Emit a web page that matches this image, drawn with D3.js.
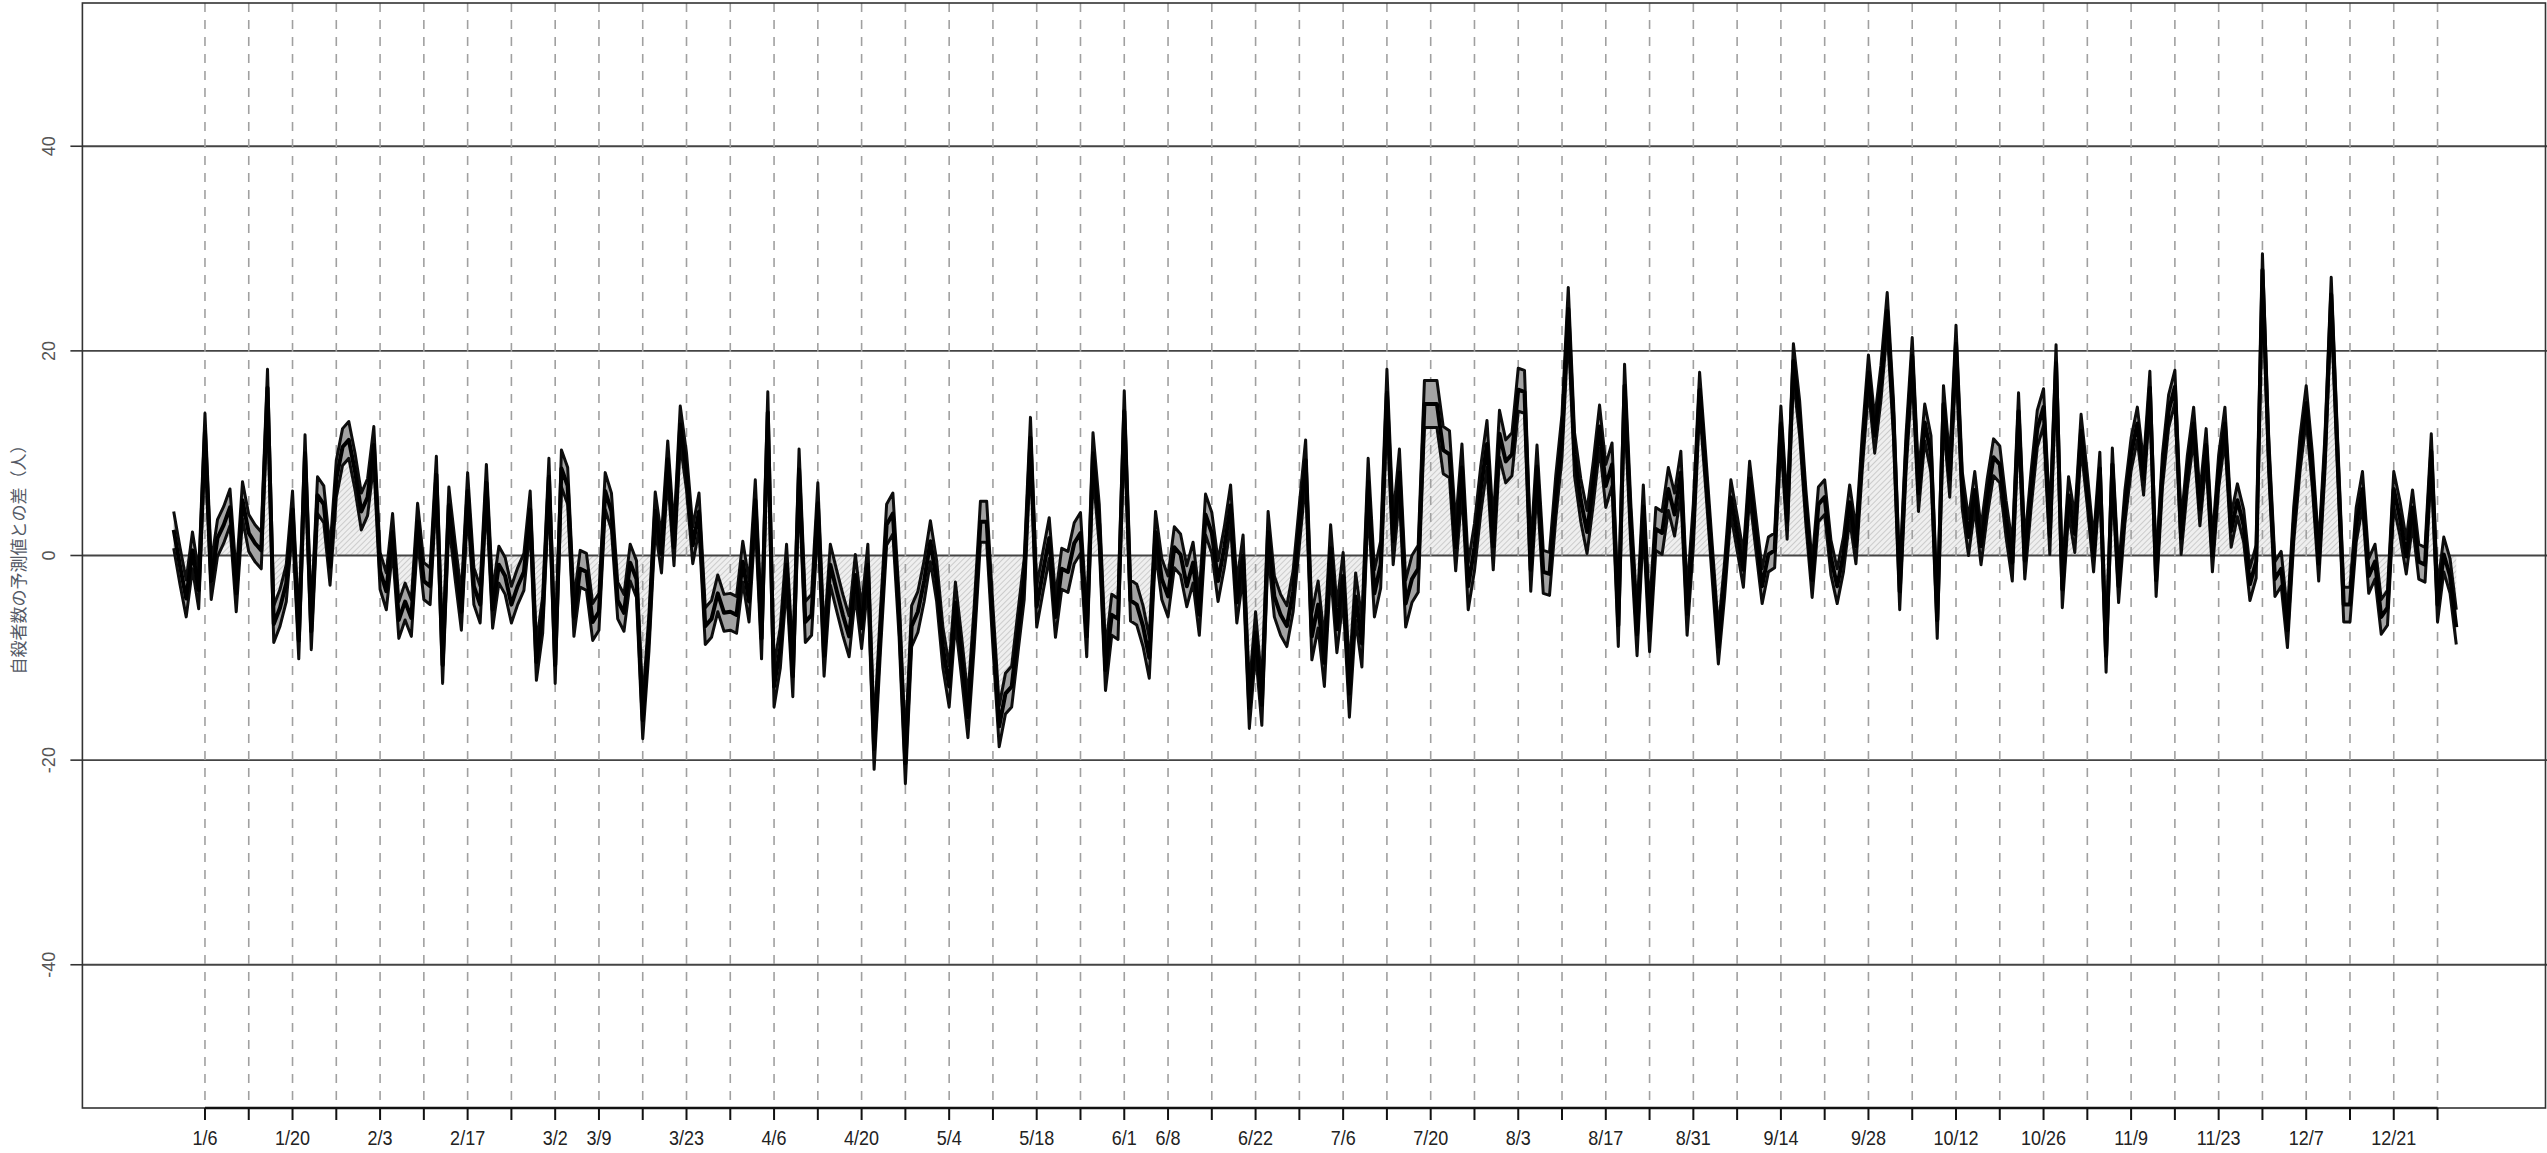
<!DOCTYPE html>
<html>
<head>
<meta charset="utf-8">
<script src="https://cdn.jsdelivr.net/npm/d3@7"></script>
<style>
  body { margin: 0; background: #fff; }
  svg { display: block; }
</style>
</head>
<body>
<svg id="vis"></svg>
<script>
// daily difference between observed and predicted count, 2020 (one value per day)
const year = 2020;
const diffValues = [
  2.5, -1, -4.2, 0.5, -3.4, 12.1, -2.5, 1.7, 3, 4.7,
  -3.7, 5.4, 2.2, 1.2, 0.5, 16.4, -6.7, -5.1, -2.7, 4.5,
  -8.3, 10, -7.4, 5.9, 5, -1.1, 7.5, 10.6, 11.3, 8.2,
  4.3, 5.7, 10.8, -1.5, -3.5, 2.3, -6.3, -4.5, -6.1, 3.3,
  -2.5, -3, 7.9, -10.7, 4.9, -0.5, -5.5, 6.3, -3, -4.8,
  7.1, -5.3, -0.9, -2, -4.8, -3, -1.6, 4.5, -10.4, -5.8,
  7.7, -10.7, 8.5, 6.8, -6.1, -1.3, -1.6, -6.5, -5.5, 6.3,
  4.3, -4.4, -5.6, -0.7, -2.3, -16.1, -7.5, 4.4, 0.1, 9.4,
  0.8, 12.8, 8.2, 1.0, 4.3, -6.9, -6.2, -3.7, -5.6, -5.5,
  -5.8, -0.6, -4.5, 5.4, -8.1, 14, -12.8, -9, -0.9, -11.8,
  8.4, -6.5, -5.8, 5.1, -9.8, -0.9, -3.4, -5.8, -7.9, -1.9,
  -7.1, -0.9, -18.9, -7.5, 3, 4.1, -6, -20.3, -6.9, -5.5,
  -2.5, 1.4, -2.5, -9, -12.8, -4.6, -10, -15.8, -7, 3.3,
  3.3, -7, -16.7, -13.5, -12.8, -7.5, -2.3, 11.5, -5, -1.6,
  1.7, -6, -1.3, -1.6, 1.2, 2.2, -7.9, 10, 3, -11.2,
  -5.8, -6.2, 14.1, -4.4, -4.8, -6.9, -10, 2.3, -2.3, -4,
  0.8, 0.1, -3, -0.7, -5.8, 4, 2.2, -2.5, 0.8, 4.9,
  -4.6, 0, -14.9, -7.5, -14.6, 2.3, -4, -5.8, -6.9, -3.5,
  3, 9.3, -7.9, -4.8, -10.5, 0.7, -7.2, -2, -13.5, -4,
  -8.6, 7.2, -3.7, -0.9, 15.9, 1.4, 8.1, -4.7, -2.3, -1.3,
  14.8, 14.8, 14.8, 10.3, 9.9, 0.8, 8.6, -3, 0.8, 6.4,
  10.9, 0.9, 11.9, 9.2, 9.9, 16.2, 16, -1.4, 8.7, -1.6,
  -1.8, 5.7, 11.7, 24.1, 9.9, 5.4, 2.3, 7.1, 12.6, 6.8,
  8.9, -6.8, 16.6, 3, -7.7, 4.8, -7.3, 2.6, 2.2, 6.5,
  4, 8.1, -5.7, 3, 16.2, 8, -0.5, -8.9, -2.3, 5.7,
  2.2, -1.4, 7.5, 2.2, -3, 0.1, 0.5, 12.9, 3.3, 19,
  13.4, 4.7, -2.4, 5, 5.7, -0.2, -3, 0.1, 5.2, 0.9,
  10, 17.9, 11.7, 16.9, 23.9, 13.4, -3.5, 9.9, 19.5, 6.1,
  13, 9.9, -6.3, 14.8, 7.5, 20.7, 6.4, 1.8, 6.4, 0.9,
  5.7, 9.6, 8.9, 3.6, -0.7, 14.1, -0.5, 6.4, 12.4, 14.5,
  1.9, 18.8, -3.3, 5.9, 2.1, 12.2, 6.4, 0, 8.5, -9.8,
  8.9, -3, 4.7, 9.9, 12.9, 7.5, 16.4, -2.4, 8.2, 14.1,
  16.5, 1.7, 8.2, 12.9, 4.5, 10.8, 0, 8.2, 12.9, 2.4,
  5.4, 2.9, -2.8, -0.6, 27.9, 9.9, -2.3, -1.3, -7.3, 3,
  9.9, 14.9, 8.2, -0.8, 10, 25.5, 10, -4.8, -4.8, 3,
  6.5, -2, -0.6, -6, -5.1, 6.5, 3.6, -0.1, 4.7, -0.6,
  -0.9, 10.2, -4.8, 0.1, -2, -7
];
// half width of the grey band, read per month (Jan..Dec)
const bandHalfWidth = [1.8, 1.8, 1.8, 2.0, 2.0, 2.0, 2.3, 2.1, 1.7, 1.8, 1.6, 1.7];
const weekTicks = ["1/6","1/13","1/20","1/27","2/3","2/10","2/17","2/24","3/2","3/9","3/16","3/23","3/30",
  "4/6","4/13","4/20","4/27","5/4","5/11","5/18","5/25","6/1","6/8","6/15","6/22","6/29",
  "7/6","7/13","7/20","7/27","8/3","8/10","8/17","8/24","8/31","9/7","9/14","9/21","9/28",
  "10/5","10/12","10/19","10/26","11/2","11/9","11/16","11/23","11/30","12/7","12/14","12/21","12/28"];
const shownLabels = ["1/6","1/20","2/3","2/17","3/2","3/9","3/23","4/6","4/20","5/4","5/18","6/1","6/8",
  "6/22","7/6","7/20","8/3","8/17","8/31","9/14","9/28","10/12","10/26","11/9","11/23","12/7","12/21"];
const yTicks = [-40, -20, 0, 20, 40];
const yTitle = "自殺者数の予測値との差（人）";

const W = 2547, H = 1153;
const plotTop = 3, plotBottom = 1108, plotLeft = 82.4, plotRight = 2547.6;

const jan1 = new Date(year, 0, 1);
const dayOf = s => {
    const [m, d] = s.split("/").map(Number);
    return d3.timeDay.count(jan1, new Date(year, m - 1, d));
};
const monthOf = i => new Date(year, 0, 1 + i).getMonth();

const n = diffValues.length;
const pad = (n - 1) * 0.04;
const x = d3.scaleLinear().domain([-pad, n - 1 + pad]).range([plotLeft, plotRight]);
const y = d3.scaleLinear().domain([-54, 54]).range([plotBottom, plotTop]);

const rows = diffValues.map((v, i) => {
    const w = bandHalfWidth[monthOf(i)];
    return {i: i, v: v, hi: v + w, lo: v - w};
});

const svg = d3.select("#vis").attr("width", W).attr("height", H);
svg.append("rect").attr("width", W).attr("height", H).attr("fill", "#fff");

const defs = svg.append("defs");
const pat = defs.append("pattern")
    .attr("id", "hatch")
    .attr("patternUnits", "userSpaceOnUse")
    .attr("width", 4).attr("height", 4)
    .attr("patternTransform", "rotate(45)");
pat.append("rect").attr("width", 4).attr("height", 4).attr("fill", "#efefef");
pat.append("line").attr("x1", 0).attr("y1", 0).attr("x2", 0).attr("y2", 4)
    .attr("stroke", "#b4b4b4").attr("stroke-width", 1.2);

defs.append("clipPath").attr("id", "plotclip")
    .append("rect").attr("x", plotLeft).attr("y", plotTop)
    .attr("width", plotRight - plotLeft).attr("height", plotBottom - plotTop);

const g = svg.append("g").attr("clip-path", "url(#plotclip)");

// hatched area between the line and zero
g.append("path").datum(rows)
    .attr("d", d3.area().x(d => x(d.i)).y0(y(0)).y1(d => y(d.v)))
    .attr("fill", "url(#hatch)");

// grid
g.selectAll("line.hgrid").data(yTicks).join("line")
    .attr("class", "hgrid")
    .attr("x1", plotLeft).attr("x2", plotRight)
    .attr("y1", d => y(d)).attr("y2", d => y(d))
    .attr("stroke", "#444").attr("stroke-width", 1.9);

g.selectAll("line.vgrid").data(weekTicks).join("line")
    .attr("class", "vgrid")
    .attr("x1", d => x(dayOf(d))).attr("x2", d => x(dayOf(d)))
    .attr("y1", plotTop).attr("y2", plotBottom)
    .attr("stroke", "#a0a0a0").attr("stroke-width", 1.6)
    .attr("stroke-dasharray", "9,8");

// grey band
g.append("path").datum(rows)
    .attr("d", d3.area().x(d => x(d.i)).y0(d => y(d.lo)).y1(d => y(d.hi)))
    .attr("fill", "#a3a3a3");

const lineOf = key => d3.line().x(d => x(d.i)).y(d => y(d[key]));
["hi", "lo"].forEach(k => {
    g.append("path").datum(rows)
        .attr("d", lineOf(k))
        .attr("fill", "none").attr("stroke", "#0d0d0d")
        .attr("stroke-width", 3).attr("stroke-linejoin", "round");
});
g.append("path").datum(rows)
    .attr("d", lineOf("v"))
    .attr("fill", "none").attr("stroke", "#000")
    .attr("stroke-width", 4).attr("stroke-linejoin", "round");

// frame
svg.append("rect")
    .attr("x", plotLeft).attr("y", plotTop)
    .attr("width", 2545.5 - plotLeft).attr("height", plotBottom - plotTop)
    .attr("fill", "none").attr("stroke", "#333").attr("stroke-width", 1.6);

// x axis
const tickDays = weekTicks.map(dayOf);
svg.append("line")
    .attr("x1", x(tickDays[0])).attr("x2", x(tickDays[tickDays.length - 1]))
    .attr("y1", plotBottom).attr("y2", plotBottom)
    .attr("stroke", "#111").attr("stroke-width", 2.6);
svg.selectAll("line.xtick").data(tickDays).join("line")
    .attr("class", "xtick")
    .attr("x1", d => x(d)).attr("x2", d => x(d))
    .attr("y1", plotBottom).attr("y2", plotBottom + 12)
    .attr("stroke", "#111").attr("stroke-width", 2);
svg.selectAll("text.xlab").data(shownLabels).join("text")
    .attr("class", "xlab")
    .attr("transform", d => `translate(${x(dayOf(d))},${plotBottom + 37}) scale(0.9,1)`)
    .attr("text-anchor", "middle")
    .attr("font-family", "Liberation Sans, Arial, sans-serif")
    .attr("font-size", 20)
    .attr("fill", "#222")
    .text(d => d);

// y axis
svg.selectAll("line.ytick").data(yTicks).join("line")
    .attr("class", "ytick")
    .attr("x1", plotLeft - 12).attr("x2", plotLeft)
    .attr("y1", d => y(d)).attr("y2", d => y(d))
    .attr("stroke", "#333").attr("stroke-width", 1.6);
svg.selectAll("text.ylab").data(yTicks).join("text")
    .attr("class", "ylab")
    .attr("transform", d => `translate(55,${y(d)}) rotate(-90)`)
    .attr("text-anchor", "middle")
    .attr("font-family", "Liberation Sans, Arial, sans-serif")
    .attr("font-size", 18)
    .attr("fill", "#555")
    .text(d => d);

svg.append("text")
    .attr("transform", `translate(17,${y(0)}) rotate(-90)`)
    .attr("text-anchor", "middle")
    .attr("dominant-baseline", "central")
    .attr("font-family", "Noto Sans CJK JP, sans-serif")
    .attr("font-size", 17)
    .attr("fill", "#555a66")
    .text(yTitle);
</script>
</body>
</html>
